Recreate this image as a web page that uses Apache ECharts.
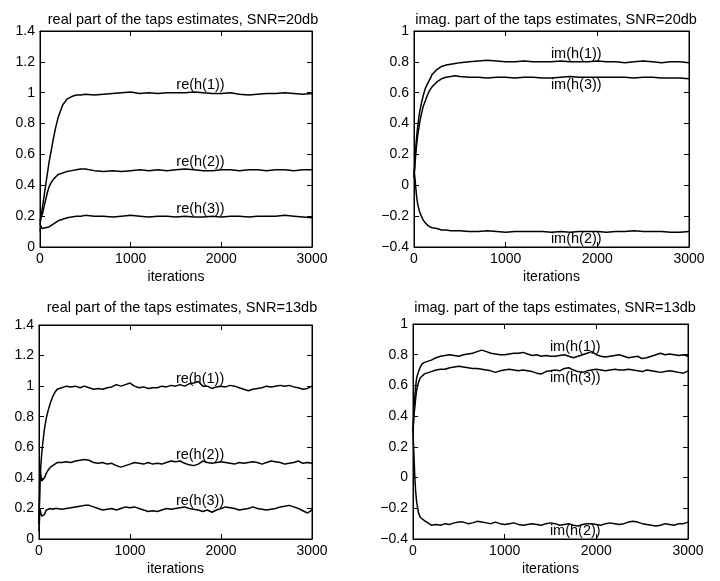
<!DOCTYPE html>
<html><head><meta charset="utf-8">
<script src="https://cdn.jsdelivr.net/npm/echarts@6/dist/echarts.min.js"></script>
<style>html,body{margin:0;padding:0;background:#fff}#c{width:720px;height:581px}</style>
</head><body><div id="c"></div>
<script>
// iteration grids
const iters20 = [0,10,20,30,40,60,80,100,125,150,175,200,250,300,350,400,450,500,
 600,700,800,900,1000,1100,1200,1300,1400,1500,1600,1700,1800,1900,2000,2100,2200,2300,2400,2500,2600,2700,2800,2900,3000];
const iters13 = [0,10,20,30,40,60,80,100,125,150,175,200,250,300,350,400,450,500,
 550,600,650,700,750,800,850,900,950,1000,1050,1100,1150,1200,1250,1300,1350,1400,1450,1500,
 1550,1600,1650,1700,1750,1800,1850,1900,1950,2000,2050,2100,2150,2200,2250,2300,2350,2400,2450,2500,
 2550,2600,2650,2700,2750,2800,2850,2900,2950,3000];

// SNR = 20 dB, real parts
const re1_20 = [0.14,0.19,0.23,0.27,0.31,0.39,0.47,0.55,0.63,0.71,0.78,0.84,0.92,0.96,0.975,0.985,0.985,0.99,
 0.985,0.99,0.995,1.0,1.005,0.995,1.0,0.995,1.0,1.0,1.0,1.005,1.0,0.995,0.995,1.0,0.99,0.985,0.99,0.995,0.995,1.0,0.995,0.99,0.995];
const re2_20 = [0.17,0.19,0.2,0.22,0.25,0.3,0.35,0.39,0.42,0.44,0.455,0.47,0.48,0.49,0.495,0.5,0.505,0.505,
 0.495,0.49,0.495,0.49,0.495,0.5,0.495,0.5,0.495,0.5,0.505,0.5,0.495,0.495,0.5,0.5,0.495,0.5,0.5,0.495,0.5,0.5,0.495,0.5,0.5];
const re3_20 = [0.1,0.14,0.12,0.13,0.11,0.125,0.12,0.13,0.14,0.15,0.16,0.17,0.18,0.19,0.195,0.2,0.2,0.205,
 0.2,0.2,0.195,0.2,0.205,0.2,0.195,0.2,0.2,0.195,0.2,0.195,0.195,0.2,0.195,0.2,0.2,0.195,0.2,0.2,0.2,0.205,0.2,0.195,0.19];
// SNR = 20 dB, imaginary parts
const im1_20 = [0.05,0.15,0.25,0.32,0.38,0.47,0.53,0.58,0.63,0.66,0.69,0.72,0.75,0.77,0.78,0.785,0.79,0.795,
 0.8,0.805,0.81,0.805,0.8,0.8,0.805,0.8,0.8,0.8,0.805,0.8,0.8,0.8,0.805,0.8,0.8,0.795,0.8,0.805,0.8,0.795,0.8,0.8,0.795];
const im2_20 = [0.1,0.05,-0.02,-0.08,-0.12,-0.17,-0.2,-0.225,-0.245,-0.26,-0.27,-0.275,-0.28,-0.29,-0.29,-0.295,-0.295,-0.295,
 -0.3,-0.3,-0.295,-0.3,-0.305,-0.3,-0.3,-0.3,-0.3,-0.305,-0.3,-0.305,-0.3,-0.3,-0.3,-0.305,-0.3,-0.3,-0.295,-0.3,-0.3,-0.3,-0.305,-0.305,-0.3];
const im3_20 = [0.05,0.13,0.21,0.27,0.32,0.4,0.46,0.51,0.55,0.59,0.62,0.64,0.67,0.69,0.7,0.705,0.71,0.705,
 0.7,0.7,0.695,0.7,0.7,0.695,0.7,0.7,0.695,0.695,0.7,0.705,0.7,0.7,0.7,0.7,0.7,0.7,0.695,0.7,0.7,0.695,0.695,0.695,0.69];

// SNR = 13 dB, real parts
const re1_13 = [0.1,0.35,0.48,0.56,0.62,0.72,0.79,0.84,0.89,0.93,0.96,0.98,0.99,1.0,0.995,1.0,0.99,1.0,
 0.99,0.98,0.985,0.98,0.99,0.995,1.01,1.0,1.01,1.02,
 1.0,0.99,0.995,0.985,0.99,0.99,1.0,0.995,1.005,1.0,
 1.01,1.0,1.015,1.02,1.03,1.0,1.0,0.985,0.995,1.0,
 0.995,1.005,1.0,0.99,0.98,0.97,0.98,0.985,0.99,1.0,
 0.995,1.0,1.005,1.0,1.005,0.995,0.99,0.98,0.985,1.0];
const re2_13 = [0.1,0.45,0.42,0.38,0.39,0.4,0.43,0.45,0.47,0.48,0.49,0.5,0.5,0.505,0.5,0.51,0.515,0.52,
 0.515,0.5,0.495,0.5,0.49,0.495,0.48,0.47,0.48,0.49,
 0.5,0.495,0.49,0.5,0.49,0.495,0.49,0.5,0.51,0.505,
 0.51,0.495,0.485,0.48,0.49,0.51,0.5,0.495,0.5,0.505,
 0.5,0.495,0.49,0.5,0.495,0.5,0.505,0.5,0.49,0.5,
 0.51,0.505,0.5,0.49,0.495,0.5,0.51,0.495,0.5,0.495];
const re3_13 = [0.05,0.2,0.17,0.15,0.14,0.16,0.19,0.2,0.2,0.195,0.2,0.2,0.195,0.2,0.205,0.21,0.215,0.22,
 0.22,0.21,0.2,0.19,0.195,0.2,0.19,0.2,0.21,0.205,
 0.21,0.2,0.19,0.18,0.185,0.18,0.19,0.2,0.195,0.2,
 0.205,0.21,0.2,0.195,0.19,0.18,0.19,0.175,0.19,0.2,
 0.21,0.205,0.2,0.19,0.195,0.2,0.21,0.2,0.195,0.19,
 0.195,0.2,0.21,0.215,0.22,0.21,0.2,0.185,0.17,0.19];
// SNR = 13 dB, imaginary parts
const im1_13 = [0.3,0.45,0.53,0.6,0.65,0.69,0.72,0.74,0.75,0.755,0.76,0.765,0.78,0.79,0.795,0.8,0.795,0.79,
 0.8,0.805,0.81,0.82,0.83,0.82,0.81,0.805,0.8,0.8,
 0.805,0.81,0.81,0.815,0.805,0.795,0.8,0.79,0.795,0.79,
 0.79,0.795,0.8,0.79,0.78,0.79,0.8,0.81,0.82,0.8,
 0.79,0.785,0.79,0.795,0.8,0.79,0.78,0.785,0.79,0.775,
 0.78,0.79,0.8,0.81,0.8,0.805,0.8,0.795,0.8,0.79];
const im2_13 = [0.3,0.15,0.0,-0.1,-0.16,-0.23,-0.26,-0.27,-0.28,-0.29,-0.3,-0.31,-0.305,-0.31,-0.3,-0.305,-0.295,-0.29,
 -0.29,-0.3,-0.295,-0.285,-0.29,-0.295,-0.3,-0.29,-0.3,-0.305,
 -0.3,-0.295,-0.305,-0.31,-0.305,-0.3,-0.305,-0.31,-0.3,-0.295,
 -0.3,-0.31,-0.305,-0.3,-0.31,-0.315,-0.305,-0.3,-0.3,-0.305,
 -0.31,-0.3,-0.295,-0.3,-0.305,-0.3,-0.29,-0.285,-0.29,-0.3,
 -0.305,-0.31,-0.315,-0.31,-0.3,-0.305,-0.31,-0.3,-0.3,-0.29];
const im3_13 = [0.3,0.4,0.46,0.52,0.57,0.62,0.65,0.66,0.675,0.68,0.685,0.69,0.7,0.705,0.705,0.715,0.72,0.725,
 0.72,0.715,0.71,0.71,0.705,0.7,0.695,0.685,0.695,0.7,
 0.705,0.7,0.695,0.7,0.695,0.69,0.68,0.675,0.69,0.695,
 0.7,0.695,0.71,0.715,0.7,0.69,0.685,0.695,0.7,0.705,
 0.7,0.695,0.7,0.705,0.7,0.7,0.705,0.7,0.695,0.69,
 0.7,0.695,0.69,0.685,0.69,0.695,0.69,0.685,0.68,0.695];

const titles = ['real part of the taps estimates, SNR=20db','imag. part of the taps estimates, SNR=20db',
                'real part of the taps estimates, SNR=13db','imag. part of the taps estimates, SNR=13db'];
const labelX = 1770;

const FONT = '"Liberation Sans", Arial, Helvetica, sans-serif';
const grids = [
  {left:40, top:31, width:272, height:216},
  {left:414, top:31, width:275, height:216},
  {left:39, top:325, width:273, height:214},
  {left:413, top:324, width:275, height:215}
];
const yRanges = [[0,1.4],[-0.4,1],[0,1.4],[-0.4,1]];
const titlePos = [[178,7],[551,7],[177,295],[550,295]];

const pairs = (xs, ys) => xs.map((x,i)=>[x, ys[i]]);

const option = {
  backgroundColor:'#fff',
  animation:false,
  textStyle:{fontFamily:FONT, color:'#000'},
  title: titles.map((t,i)=>({text:t, left:titlePos[i][0], top:titlePos[i][1], textAlign:'center',
     textStyle:{fontSize:14.5, fontWeight:'normal', color:'#000', fontFamily:FONT}})),
  grid: grids.map(g=>Object.assign({show:true, borderColor:'#000', borderWidth:1, backgroundColor:'#fff'}, g)),
  xAxis: [], yAxis: [], series: []
};
for (let i=0;i<4;i++){
  const tick = {show:true, inside:true, length:5, lineStyle:{color:'#000', width:1}};
  option.xAxis.push({gridIndex:i, type:'value', min:0, max:3000, interval:1000, position:'bottom',
    name:'iterations', nameLocation:'middle', nameGap:23,
    nameTextStyle:{fontSize:14, color:'#000', fontFamily:FONT},
    axisLine:{onZero:false, lineStyle:{color:'#000', width:1}}, axisTick:tick, splitLine:{show:false},
    axisLabel:{fontSize:14, color:'#000', margin:5, fontFamily:FONT, formatter:v=>String(v)}});
  option.xAxis.push({gridIndex:i, type:'value', min:0, max:3000, interval:1000, position:'top',
    axisLine:{onZero:false, lineStyle:{color:'#000'}}, axisTick:tick, splitLine:{show:false}, axisLabel:{show:false}});
  option.yAxis.push({gridIndex:i, type:'value', min:yRanges[i][0], max:yRanges[i][1], interval:0.2, position:'left',
    axisLine:{show:true, onZero:false, lineStyle:{color:'#000', width:1}}, axisTick:tick, splitLine:{show:false},
    axisLabel:{fontSize:14, color:'#000', margin:5, fontFamily:FONT,
      formatter:v=>{const r=Math.round(v*10)/10; return (r<0?'\u2212':'')+String(Math.abs(r));}}});
  option.yAxis.push({gridIndex:i, type:'value', min:yRanges[i][0], max:yRanges[i][1], interval:0.2, position:'right',
    axisLine:{show:true, onZero:false, lineStyle:{color:'#000'}}, axisTick:tick, splitLine:{show:false}, axisLabel:{show:false}});
}
function addSeries(gi, xs, ys, label, above, yv){
  option.series.push({type:'line', xAxisIndex:gi*2, yAxisIndex:gi*2, data:pairs(xs,ys), showSymbol:false,
    lineStyle:{color:'#000', width:1.5}, z:3,
    markPoint:{symbol:'circle', symbolSize:0, silent:true, animation:false,
      data:[{coord:[labelX, yv], label:{show:true, formatter:label, position: above?'top':'bottom', distance:0,
        fontSize:14.5, color:'#000', fontFamily:FONT}}]}});
}
addSeries(0, iters20, re1_20, 're(h(1))', true, 1.0);
addSeries(0, iters20, re2_20, 're(h(2))', true, 0.5);
addSeries(0, iters20, re3_20, 're(h(3))', true, 0.2);
addSeries(1, iters20, im1_20, 'im(h(1))', true, 0.8);
addSeries(1, iters20, im2_20, 'im(h(2))', false, -0.3);
addSeries(1, iters20, im3_20, 'im(h(3))', false, 0.7);
addSeries(2, iters13, re1_13, 're(h(1))', true, 1.0);
addSeries(2, iters13, re2_13, 're(h(2))', true, 0.5);
addSeries(2, iters13, re3_13, 're(h(3))', true, 0.2);
addSeries(3, iters13, im1_13, 'im(h(1))', true, 0.8);
addSeries(3, iters13, im2_13, 'im(h(2))', false, -0.3);
addSeries(3, iters13, im3_13, 'im(h(3))', false, 0.7);

const chart = echarts.init(document.getElementById('c'), null, {renderer:'canvas'});
chart.setOption(option);
</script></body></html>
